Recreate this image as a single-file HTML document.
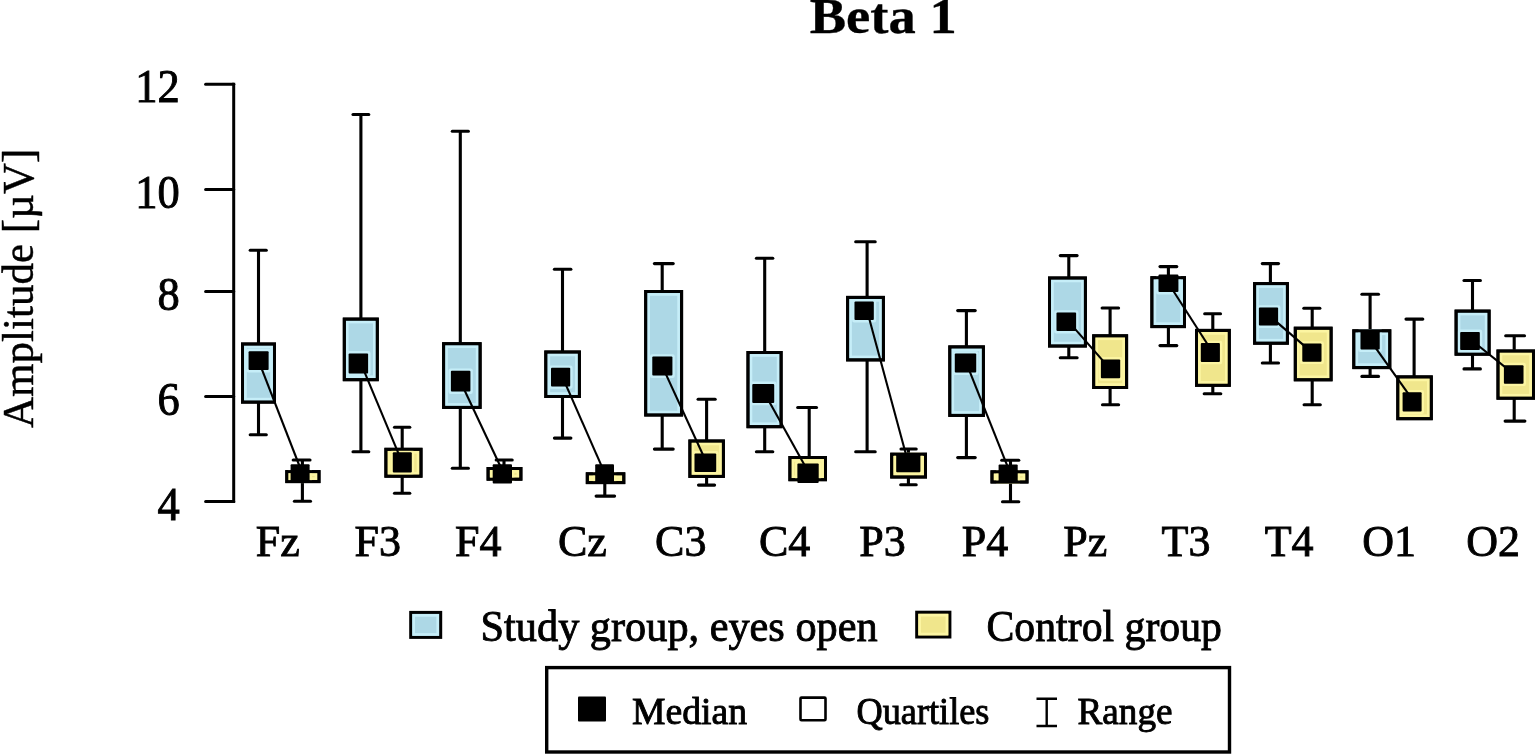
<!DOCTYPE html>
<html><head><meta charset="utf-8"><title>Beta 1</title>
<style>
html,body{margin:0;padding:0;background:#fff;}
body{width:1535px;height:755px;overflow:hidden;}
svg{display:block;filter:blur(0.4px);}
text{font-family:"Liberation Serif","Times New Roman",serif;fill:#000;stroke:#000;stroke-width:0.9px;}
text[font-weight="bold"]{stroke-width:0.3px;}
</style></head>
<body>
<svg width="1535" height="755" viewBox="0 0 1535 755">
<rect width="1535" height="755" fill="#fff"/>
<path d="M233.7 82.7V503.1" stroke="#000" stroke-width="3" fill="none"/>
<line x1="205.6" y1="84.2" x2="233.7" y2="84.2" stroke="#000" stroke-width="3" stroke-linecap="round"/>
<line x1="205.6" y1="189.4" x2="233.7" y2="189.4" stroke="#000" stroke-width="3" stroke-linecap="round"/>
<line x1="205.6" y1="291.5" x2="233.7" y2="291.5" stroke="#000" stroke-width="3" stroke-linecap="round"/>
<line x1="205.6" y1="396.5" x2="233.7" y2="396.5" stroke="#000" stroke-width="3" stroke-linecap="round"/>
<line x1="205.6" y1="501.6" x2="233.7" y2="501.6" stroke="#000" stroke-width="3" stroke-linecap="round"/>
<line x1="258.5" y1="250.3" x2="258.5" y2="344.1" stroke="#000" stroke-width="3.1"/>
<line x1="258.5" y1="401" x2="258.5" y2="434.7" stroke="#000" stroke-width="3.1"/>
<line x1="250.2" y1="250.3" x2="266.3" y2="250.3" stroke="#000" stroke-width="3.1" stroke-linecap="round"/>
<line x1="250.2" y1="434.7" x2="266.3" y2="434.7" stroke="#000" stroke-width="3.1" stroke-linecap="round"/>
<line x1="302.4" y1="460" x2="302.4" y2="470.1" stroke="#000" stroke-width="3.1"/>
<line x1="302.4" y1="483.1" x2="302.4" y2="501.2" stroke="#000" stroke-width="3.1"/>
<line x1="293.2" y1="460" x2="310" y2="460" stroke="#000" stroke-width="3.1" stroke-linecap="round"/>
<line x1="294.4" y1="501.2" x2="310.5" y2="501.2" stroke="#000" stroke-width="3.1" stroke-linecap="round"/>
<rect x="242.5" y="344" width="32" height="58.1" fill="#ADD8E6" stroke="#000" stroke-width="3.0"/><rect x="245.5" y="347" width="26" height="52.1" fill="none" stroke="#C6EEF8" stroke-width="2.6"/>
<rect x="286.8" y="471.6" width="32.2" height="10" fill="#F0E68C" stroke="#000" stroke-width="3.0"/><rect x="289.8" y="474.6" width="26.2" height="4" fill="none" stroke="#FCF5A2" stroke-width="2.6"/>
<clipPath id="cb0"><rect x="241" y="342.5" width="35" height="61.1"/></clipPath>
<clipPath id="cy0"><rect x="285.3" y="470.1" width="35.2" height="13"/></clipPath>
<g clip-path="url(#cb0)"><rect x="247.4" y="350" width="22.4" height="21.2" fill="none" stroke="#C6EEF8" stroke-width="2.4" rx="1"/></g>
<g clip-path="url(#cy0)"><rect x="289.4" y="463.1" width="21.4" height="20.7" fill="none" stroke="#FCF5A2" stroke-width="2.4" rx="1"/></g>
<rect x="242.5" y="344" width="32" height="58.1" fill="none" stroke="#000" stroke-width="3.0"/>
<rect x="286.8" y="471.6" width="32.2" height="10" fill="none" stroke="#000" stroke-width="3.0"/>
<line x1="258.5" y1="360.6" x2="302.4" y2="473.5" stroke="#000" stroke-width="2.1"/>
<rect x="248.6" y="351.2" width="20" height="18.8" fill="#000" rx="1"/>
<rect x="290.6" y="464.3" width="19" height="18.3" fill="#000" rx="1"/>
<line x1="360.9" y1="114.5" x2="360.9" y2="318.5" stroke="#000" stroke-width="3.1"/>
<line x1="360.9" y1="380.1" x2="360.9" y2="451.7" stroke="#000" stroke-width="3.1"/>
<line x1="353" y1="114.5" x2="368.8" y2="114.5" stroke="#000" stroke-width="3.1" stroke-linecap="round"/>
<line x1="353" y1="451.7" x2="368.8" y2="451.7" stroke="#000" stroke-width="3.1" stroke-linecap="round"/>
<line x1="402.2" y1="427.2" x2="402.2" y2="448.7" stroke="#000" stroke-width="3.1"/>
<line x1="402.2" y1="476.8" x2="402.2" y2="493.3" stroke="#000" stroke-width="3.1"/>
<line x1="394.5" y1="427.2" x2="409.8" y2="427.2" stroke="#000" stroke-width="3.1" stroke-linecap="round"/>
<line x1="394.5" y1="493.3" x2="409.8" y2="493.3" stroke="#000" stroke-width="3.1" stroke-linecap="round"/>
<rect x="344.3" y="319.1" width="33" height="60.6" fill="#ADD8E6" stroke="#000" stroke-width="3.0"/><rect x="347.3" y="322.1" width="27" height="54.6" fill="none" stroke="#C6EEF8" stroke-width="2.6"/>
<rect x="385.9" y="449.3" width="35.1" height="26.9" fill="#F0E68C" stroke="#000" stroke-width="3.0"/><rect x="388.9" y="452.3" width="29.1" height="20.9" fill="none" stroke="#FCF5A2" stroke-width="2.6"/>
<clipPath id="cb1"><rect x="342.8" y="317.6" width="36" height="63.6"/></clipPath>
<clipPath id="cy1"><rect x="384.4" y="447.8" width="38.1" height="29.9"/></clipPath>
<g clip-path="url(#cb1)"><rect x="347.4" y="352.3" width="21.9" height="22.3" fill="none" stroke="#C6EEF8" stroke-width="2.4" rx="1"/></g>
<g clip-path="url(#cy1)"><rect x="391.6" y="451.1" width="21.4" height="22.5" fill="none" stroke="#FCF5A2" stroke-width="2.4" rx="1"/></g>
<rect x="344.3" y="319.1" width="33" height="60.6" fill="none" stroke="#000" stroke-width="3.0"/>
<rect x="385.9" y="449.3" width="35.1" height="26.9" fill="none" stroke="#000" stroke-width="3.0"/>
<line x1="360.9" y1="363.4" x2="402.2" y2="462.4" stroke="#000" stroke-width="2.1"/>
<rect x="348.6" y="353.5" width="19.5" height="19.9" fill="#000" rx="1"/>
<rect x="392.8" y="452.3" width="19" height="20.1" fill="#000" rx="1"/>
<line x1="460.3" y1="131.2" x2="460.3" y2="343.2" stroke="#000" stroke-width="3.1"/>
<line x1="460.3" y1="407.9" x2="460.3" y2="468.3" stroke="#000" stroke-width="3.1"/>
<line x1="452.3" y1="131.2" x2="468.4" y2="131.2" stroke="#000" stroke-width="3.1" stroke-linecap="round"/>
<line x1="452.3" y1="468.3" x2="468.4" y2="468.3" stroke="#000" stroke-width="3.1" stroke-linecap="round"/>
<line x1="504" y1="460" x2="504" y2="467.6" stroke="#000" stroke-width="3.1"/>
<line x1="496.2" y1="460" x2="512.2" y2="460" stroke="#000" stroke-width="3.1" stroke-linecap="round"/>
<rect x="443.6" y="343.7" width="36.5" height="63.7" fill="#ADD8E6" stroke="#000" stroke-width="3.0"/><rect x="446.6" y="346.7" width="30.5" height="57.7" fill="none" stroke="#C6EEF8" stroke-width="2.6"/>
<rect x="488.1" y="468.5" width="32.8" height="10.7" fill="#F0E68C" stroke="#000" stroke-width="3.0"/><rect x="491.1" y="471.5" width="26.8" height="4.7" fill="none" stroke="#FCF5A2" stroke-width="2.6"/>
<clipPath id="cb2"><rect x="442.1" y="342.2" width="39.5" height="66.7"/></clipPath>
<clipPath id="cy2"><rect x="486.6" y="467" width="35.8" height="13.7"/></clipPath>
<g clip-path="url(#cb2)"><rect x="449.7" y="369.6" width="21.9" height="23.2" fill="none" stroke="#C6EEF8" stroke-width="2.4" rx="1"/></g>
<g clip-path="url(#cy2)"><rect x="491.5" y="463.1" width="21.7" height="21.7" fill="none" stroke="#FCF5A2" stroke-width="2.4" rx="1"/></g>
<rect x="443.6" y="343.7" width="36.5" height="63.7" fill="none" stroke="#000" stroke-width="3.0"/>
<rect x="488.1" y="468.5" width="32.8" height="10.7" fill="none" stroke="#000" stroke-width="3.0"/>
<line x1="460.3" y1="381.2" x2="504" y2="474" stroke="#000" stroke-width="2.1"/>
<rect x="450.9" y="370.8" width="19.5" height="20.8" fill="#000" rx="1"/>
<rect x="492.7" y="464.3" width="19.3" height="19.3" fill="#000" rx="1"/>
<line x1="562.5" y1="269.3" x2="562.5" y2="351.7" stroke="#000" stroke-width="3.1"/>
<line x1="562.5" y1="397" x2="562.5" y2="438.1" stroke="#000" stroke-width="3.1"/>
<line x1="554.4" y1="269.3" x2="570.9" y2="269.3" stroke="#000" stroke-width="3.1" stroke-linecap="round"/>
<line x1="554.4" y1="438.1" x2="570.9" y2="438.1" stroke="#000" stroke-width="3.1" stroke-linecap="round"/>
<line x1="604.8" y1="483.1" x2="604.8" y2="496.1" stroke="#000" stroke-width="3.1"/>
<line x1="596.1" y1="496.1" x2="614.6" y2="496.1" stroke="#000" stroke-width="3.1" stroke-linecap="round"/>
<rect x="545.8" y="352" width="33.6" height="44.5" fill="#ADD8E6" stroke="#000" stroke-width="3.0"/><rect x="548.8" y="355" width="27.6" height="38.5" fill="none" stroke="#C6EEF8" stroke-width="2.6"/>
<rect x="587.3" y="473.8" width="36.5" height="8.8" fill="#F0E68C" stroke="#000" stroke-width="3.0"/><rect x="590.3" y="476.8" width="30.5" height="2.8" fill="none" stroke="#FCF5A2" stroke-width="2.6"/>
<clipPath id="cb3"><rect x="544.3" y="350.5" width="36.6" height="47.5"/></clipPath>
<clipPath id="cy3"><rect x="585.8" y="472.3" width="39.5" height="11.8"/></clipPath>
<g clip-path="url(#cb3)"><rect x="549.8" y="366.6" width="21.6" height="21" fill="none" stroke="#C6EEF8" stroke-width="2.4" rx="1"/></g>
<g clip-path="url(#cy3)"><rect x="594" y="463.1" width="21.2" height="20.5" fill="none" stroke="#FCF5A2" stroke-width="2.4" rx="1"/></g>
<rect x="545.8" y="352" width="33.6" height="44.5" fill="none" stroke="#000" stroke-width="3.0"/>
<rect x="587.3" y="473.8" width="36.5" height="8.8" fill="none" stroke="#000" stroke-width="3.0"/>
<line x1="562.5" y1="377.1" x2="604.8" y2="473.4" stroke="#000" stroke-width="2.1"/>
<rect x="551" y="367.8" width="19.2" height="18.6" fill="#000" rx="1"/>
<rect x="595.2" y="464.3" width="18.8" height="18.1" fill="#000" rx="1"/>
<line x1="662.2" y1="263.6" x2="662.2" y2="291.7" stroke="#000" stroke-width="3.1"/>
<line x1="662.2" y1="415.5" x2="662.2" y2="449.1" stroke="#000" stroke-width="3.1"/>
<line x1="654.4" y1="263.6" x2="673.2" y2="263.6" stroke="#000" stroke-width="3.1" stroke-linecap="round"/>
<line x1="654.4" y1="449.1" x2="673.2" y2="449.1" stroke="#000" stroke-width="3.1" stroke-linecap="round"/>
<line x1="706.6" y1="399.2" x2="706.6" y2="440.5" stroke="#000" stroke-width="3.1"/>
<line x1="706.6" y1="476.9" x2="706.6" y2="485.1" stroke="#000" stroke-width="3.1"/>
<line x1="698.1" y1="399.2" x2="715.2" y2="399.2" stroke="#000" stroke-width="3.1" stroke-linecap="round"/>
<line x1="698.5" y1="485.1" x2="714.6" y2="485.1" stroke="#000" stroke-width="3.1" stroke-linecap="round"/>
<rect x="645.7" y="291.5" width="35.9" height="123.5" fill="#ADD8E6" stroke="#000" stroke-width="3.0"/><rect x="648.7" y="294.5" width="29.9" height="117.5" fill="none" stroke="#C6EEF8" stroke-width="2.6"/>
<rect x="689.9" y="441" width="33.5" height="35.4" fill="#F0E68C" stroke="#000" stroke-width="3.0"/><rect x="692.9" y="444" width="27.5" height="29.4" fill="none" stroke="#FCF5A2" stroke-width="2.6"/>
<clipPath id="cb4"><rect x="644.2" y="290" width="38.9" height="126.5"/></clipPath>
<clipPath id="cy4"><rect x="688.4" y="439.5" width="36.5" height="38.4"/></clipPath>
<g clip-path="url(#cb4)"><rect x="651.1" y="355.4" width="22.5" height="21.4" fill="none" stroke="#C6EEF8" stroke-width="2.4" rx="1"/></g>
<g clip-path="url(#cy4)"><rect x="693.3" y="452.2" width="24.1" height="21" fill="none" stroke="#FCF5A2" stroke-width="2.4" rx="1"/></g>
<rect x="645.7" y="291.5" width="35.9" height="123.5" fill="none" stroke="#000" stroke-width="3.0"/>
<rect x="689.9" y="441" width="33.5" height="35.4" fill="none" stroke="#000" stroke-width="3.0"/>
<line x1="662.2" y1="366.1" x2="706.6" y2="462.7" stroke="#000" stroke-width="2.1"/>
<rect x="652.3" y="356.6" width="20.1" height="19" fill="#000" rx="1"/>
<rect x="694.5" y="453.4" width="21.7" height="18.6" fill="#000" rx="1"/>
<line x1="764.7" y1="258.3" x2="764.7" y2="351.7" stroke="#000" stroke-width="3.1"/>
<line x1="764.7" y1="427.4" x2="764.7" y2="451.7" stroke="#000" stroke-width="3.1"/>
<line x1="756.4" y1="258.3" x2="772.8" y2="258.3" stroke="#000" stroke-width="3.1" stroke-linecap="round"/>
<line x1="756.4" y1="451.7" x2="772.8" y2="451.7" stroke="#000" stroke-width="3.1" stroke-linecap="round"/>
<line x1="809.2" y1="407.5" x2="809.2" y2="457" stroke="#000" stroke-width="3.1"/>
<line x1="797.7" y1="407.5" x2="816.5" y2="407.5" stroke="#000" stroke-width="3.1" stroke-linecap="round"/>
<rect x="748" y="352.5" width="33.1" height="74.2" fill="#ADD8E6" stroke="#000" stroke-width="3.0"/><rect x="751" y="355.5" width="27.1" height="68.2" fill="none" stroke="#C6EEF8" stroke-width="2.6"/>
<rect x="789.9" y="457.5" width="35.6" height="22.2" fill="#F0E68C" stroke="#000" stroke-width="3.0"/><rect x="792.9" y="460.5" width="29.6" height="16.2" fill="none" stroke="#FCF5A2" stroke-width="2.6"/>
<clipPath id="cb5"><rect x="746.5" y="351" width="36.1" height="77.2"/></clipPath>
<clipPath id="cy5"><rect x="788.4" y="456" width="38.6" height="25.2"/></clipPath>
<g clip-path="url(#cb5)"><rect x="751.1" y="382.8" width="24.3" height="21.3" fill="none" stroke="#C6EEF8" stroke-width="2.4" rx="1"/></g>
<g clip-path="url(#cy5)"><rect x="796.2" y="462.4" width="23.7" height="21.9" fill="none" stroke="#FCF5A2" stroke-width="2.4" rx="1"/></g>
<rect x="748" y="352.5" width="33.1" height="74.2" fill="none" stroke="#000" stroke-width="3.0"/>
<rect x="789.9" y="457.5" width="35.6" height="22.2" fill="none" stroke="#000" stroke-width="3.0"/>
<line x1="764.7" y1="393.4" x2="809.2" y2="473.4" stroke="#000" stroke-width="2.1"/>
<rect x="752.3" y="384" width="21.9" height="18.9" fill="#000" rx="1"/>
<rect x="797.4" y="463.6" width="21.3" height="19.5" fill="#000" rx="1"/>
<line x1="867.1" y1="241.7" x2="867.1" y2="296.9" stroke="#000" stroke-width="3.1"/>
<line x1="867.1" y1="360.4" x2="867.1" y2="451.7" stroke="#000" stroke-width="3.1"/>
<line x1="855.7" y1="241.7" x2="875.2" y2="241.7" stroke="#000" stroke-width="3.1" stroke-linecap="round"/>
<line x1="855.7" y1="451.7" x2="875.2" y2="451.7" stroke="#000" stroke-width="3.1" stroke-linecap="round"/>
<line x1="908.4" y1="449" x2="908.4" y2="453.7" stroke="#000" stroke-width="3.1"/>
<line x1="908.4" y1="477.5" x2="908.4" y2="484.8" stroke="#000" stroke-width="3.1"/>
<line x1="901" y1="449" x2="916.2" y2="449" stroke="#000" stroke-width="3.1" stroke-linecap="round"/>
<line x1="900.7" y1="484.8" x2="916.2" y2="484.8" stroke="#000" stroke-width="3.1" stroke-linecap="round"/>
<rect x="847.6" y="297.4" width="35.8" height="62.5" fill="#ADD8E6" stroke="#000" stroke-width="3.0"/><rect x="850.6" y="300.4" width="29.8" height="56.5" fill="none" stroke="#C6EEF8" stroke-width="2.6"/>
<rect x="891.7" y="454.2" width="33.8" height="22.8" fill="#F0E68C" stroke="#000" stroke-width="3.0"/><rect x="894.7" y="457.2" width="27.8" height="16.8" fill="none" stroke="#FCF5A2" stroke-width="2.6"/>
<clipPath id="cb6"><rect x="846.1" y="295.9" width="38.8" height="65.5"/></clipPath>
<clipPath id="cy6"><rect x="890.2" y="452.7" width="36.8" height="25.8"/></clipPath>
<g clip-path="url(#cb6)"><rect x="853.3" y="300.3" width="21.7" height="20.9" fill="none" stroke="#C6EEF8" stroke-width="2.4" rx="1"/></g>
<g clip-path="url(#cy6)"><rect x="895" y="453.2" width="26.6" height="20.3" fill="none" stroke="#FCF5A2" stroke-width="2.4" rx="1"/></g>
<rect x="847.6" y="297.4" width="35.8" height="62.5" fill="none" stroke="#000" stroke-width="3.0"/>
<rect x="891.7" y="454.2" width="33.8" height="22.8" fill="none" stroke="#000" stroke-width="3.0"/>
<line x1="867.1" y1="310.8" x2="908.4" y2="463.4" stroke="#000" stroke-width="2.1"/>
<rect x="854.5" y="301.5" width="19.3" height="18.5" fill="#000" rx="1"/>
<rect x="896.2" y="454.4" width="24.2" height="17.9" fill="#000" rx="1"/>
<line x1="966.4" y1="310.6" x2="966.4" y2="346.4" stroke="#000" stroke-width="3.1"/>
<line x1="966.4" y1="415.9" x2="966.4" y2="457.6" stroke="#000" stroke-width="3.1"/>
<line x1="957.7" y1="310.6" x2="975.2" y2="310.6" stroke="#000" stroke-width="3.1" stroke-linecap="round"/>
<line x1="957.7" y1="457.6" x2="975.2" y2="457.6" stroke="#000" stroke-width="3.1" stroke-linecap="round"/>
<line x1="1010.5" y1="460.3" x2="1010.5" y2="470.6" stroke="#000" stroke-width="3.1"/>
<line x1="1010.5" y1="483.2" x2="1010.5" y2="501.7" stroke="#000" stroke-width="3.1"/>
<line x1="1001.7" y1="460.3" x2="1018.8" y2="460.3" stroke="#000" stroke-width="3.1" stroke-linecap="round"/>
<line x1="1002.5" y1="501.7" x2="1018.8" y2="501.7" stroke="#000" stroke-width="3.1" stroke-linecap="round"/>
<rect x="949.8" y="346.9" width="33.6" height="68.5" fill="#ADD8E6" stroke="#000" stroke-width="3.0"/><rect x="952.8" y="349.9" width="27.6" height="62.5" fill="none" stroke="#C6EEF8" stroke-width="2.6"/>
<rect x="992" y="471.8" width="35" height="10.2" fill="#F0E68C" stroke="#000" stroke-width="3.0"/><rect x="995" y="474.8" width="29" height="4.2" fill="none" stroke="#FCF5A2" stroke-width="2.6"/>
<clipPath id="cb7"><rect x="948.3" y="345.4" width="36.6" height="71.5"/></clipPath>
<clipPath id="cy7"><rect x="990.5" y="470.3" width="38" height="13.2"/></clipPath>
<g clip-path="url(#cb7)"><rect x="953.6" y="352.4" width="23.8" height="21.4" fill="none" stroke="#C6EEF8" stroke-width="2.4" rx="1"/></g>
<g clip-path="url(#cy7)"><rect x="997.4" y="463.3" width="21.5" height="20.9" fill="none" stroke="#FCF5A2" stroke-width="2.4" rx="1"/></g>
<rect x="949.8" y="346.9" width="33.6" height="68.5" fill="none" stroke="#000" stroke-width="3.0"/>
<rect x="992" y="471.8" width="35" height="10.2" fill="none" stroke="#000" stroke-width="3.0"/>
<line x1="966.4" y1="363.1" x2="1010.5" y2="473.8" stroke="#000" stroke-width="2.1"/>
<rect x="954.8" y="353.6" width="21.4" height="19" fill="#000" rx="1"/>
<rect x="998.6" y="464.5" width="19.1" height="18.5" fill="#000" rx="1"/>
<line x1="1068.8" y1="255.6" x2="1068.8" y2="277.5" stroke="#000" stroke-width="3.1"/>
<line x1="1068.8" y1="346.5" x2="1068.8" y2="357.7" stroke="#000" stroke-width="3.1"/>
<line x1="1060.3" y1="255.6" x2="1077.1" y2="255.6" stroke="#000" stroke-width="3.1" stroke-linecap="round"/>
<line x1="1060.3" y1="357.7" x2="1077.1" y2="357.7" stroke="#000" stroke-width="3.1" stroke-linecap="round"/>
<line x1="1110.1" y1="308" x2="1110.1" y2="335.6" stroke="#000" stroke-width="3.1"/>
<line x1="1110.1" y1="388.2" x2="1110.1" y2="404.8" stroke="#000" stroke-width="3.1"/>
<line x1="1102.1" y1="308" x2="1118.6" y2="308" stroke="#000" stroke-width="3.1" stroke-linecap="round"/>
<line x1="1102.5" y1="404.8" x2="1118.6" y2="404.8" stroke="#000" stroke-width="3.1" stroke-linecap="round"/>
<rect x="1049.5" y="278" width="35.9" height="68" fill="#ADD8E6" stroke="#000" stroke-width="3.0"/><rect x="1052.5" y="281" width="29.9" height="62" fill="none" stroke="#C6EEF8" stroke-width="2.6"/>
<rect x="1093.7" y="335.8" width="32.9" height="51.7" fill="#F0E68C" stroke="#000" stroke-width="3.0"/><rect x="1096.7" y="338.8" width="26.9" height="45.7" fill="none" stroke="#FCF5A2" stroke-width="2.6"/>
<clipPath id="cb8"><rect x="1048" y="276.5" width="38.9" height="71"/></clipPath>
<clipPath id="cy8"><rect x="1092.2" y="334.3" width="35.9" height="54.7"/></clipPath>
<g clip-path="url(#cb8)"><rect x="1055.3" y="311.4" width="22" height="20.9" fill="none" stroke="#C6EEF8" stroke-width="2.4" rx="1"/></g>
<g clip-path="url(#cy8)"><rect x="1099.7" y="358.3" width="21.7" height="21.2" fill="none" stroke="#FCF5A2" stroke-width="2.4" rx="1"/></g>
<rect x="1049.5" y="278" width="35.9" height="68" fill="none" stroke="#000" stroke-width="3.0"/>
<rect x="1093.7" y="335.8" width="32.9" height="51.7" fill="none" stroke="#000" stroke-width="3.0"/>
<line x1="1068.8" y1="321.9" x2="1110.1" y2="368.9" stroke="#000" stroke-width="2.1"/>
<rect x="1056.5" y="312.6" width="19.6" height="18.5" fill="#000" rx="1"/>
<rect x="1100.9" y="359.5" width="19.3" height="18.8" fill="#000" rx="1"/>
<line x1="1168.4" y1="266.6" x2="1168.4" y2="277.2" stroke="#000" stroke-width="3.1"/>
<line x1="1168.4" y1="327.1" x2="1168.4" y2="345.6" stroke="#000" stroke-width="3.1"/>
<line x1="1160" y1="266.6" x2="1176.8" y2="266.6" stroke="#000" stroke-width="3.1" stroke-linecap="round"/>
<line x1="1160" y1="345.6" x2="1176.8" y2="345.6" stroke="#000" stroke-width="3.1" stroke-linecap="round"/>
<line x1="1212.8" y1="313.7" x2="1212.8" y2="329.9" stroke="#000" stroke-width="3.1"/>
<line x1="1212.8" y1="385.8" x2="1212.8" y2="393.7" stroke="#000" stroke-width="3.1"/>
<line x1="1204.7" y1="313.7" x2="1220.5" y2="313.7" stroke="#000" stroke-width="3.1" stroke-linecap="round"/>
<line x1="1204.2" y1="393.7" x2="1220.8" y2="393.7" stroke="#000" stroke-width="3.1" stroke-linecap="round"/>
<rect x="1151.9" y="277.7" width="32.6" height="48.9" fill="#ADD8E6" stroke="#000" stroke-width="3.0"/><rect x="1154.9" y="280.7" width="26.6" height="42.9" fill="none" stroke="#C6EEF8" stroke-width="2.6"/>
<rect x="1196.5" y="330.4" width="32.8" height="54.9" fill="#F0E68C" stroke="#000" stroke-width="3.0"/><rect x="1199.5" y="333.4" width="26.8" height="48.9" fill="none" stroke="#FCF5A2" stroke-width="2.6"/>
<clipPath id="cb9"><rect x="1150.4" y="276.2" width="35.6" height="51.9"/></clipPath>
<clipPath id="cy9"><rect x="1195" y="328.9" width="35.8" height="57.9"/></clipPath>
<g clip-path="url(#cb9)"><rect x="1157.3" y="273.3" width="22.3" height="20" fill="none" stroke="#C6EEF8" stroke-width="2.4" rx="1"/></g>
<g clip-path="url(#cy9)"><rect x="1199.6" y="341.9" width="21.5" height="21.2" fill="none" stroke="#FCF5A2" stroke-width="2.4" rx="1"/></g>
<rect x="1151.9" y="277.7" width="32.6" height="48.9" fill="none" stroke="#000" stroke-width="3.0"/>
<rect x="1196.5" y="330.4" width="32.8" height="54.9" fill="none" stroke="#000" stroke-width="3.0"/>
<line x1="1168.4" y1="283.3" x2="1212.8" y2="352.5" stroke="#000" stroke-width="2.1"/>
<rect x="1158.5" y="274.5" width="19.9" height="17.6" fill="#000" rx="1"/>
<rect x="1200.8" y="343.1" width="19.1" height="18.8" fill="#000" rx="1"/>
<line x1="1270.4" y1="263.6" x2="1270.4" y2="283.1" stroke="#000" stroke-width="3.1"/>
<line x1="1270.4" y1="343.7" x2="1270.4" y2="363" stroke="#000" stroke-width="3.1"/>
<line x1="1262.3" y1="263.6" x2="1278.5" y2="263.6" stroke="#000" stroke-width="3.1" stroke-linecap="round"/>
<line x1="1262.3" y1="363" x2="1278.5" y2="363" stroke="#000" stroke-width="3.1" stroke-linecap="round"/>
<line x1="1312.2" y1="308.3" x2="1312.2" y2="327.7" stroke="#000" stroke-width="3.1"/>
<line x1="1312.2" y1="380.3" x2="1312.2" y2="404.8" stroke="#000" stroke-width="3.1"/>
<line x1="1303.8" y1="308.3" x2="1319.9" y2="308.3" stroke="#000" stroke-width="3.1" stroke-linecap="round"/>
<line x1="1304.1" y1="404.8" x2="1320.3" y2="404.8" stroke="#000" stroke-width="3.1" stroke-linecap="round"/>
<rect x="1254.6" y="283.6" width="32.8" height="59.6" fill="#ADD8E6" stroke="#000" stroke-width="3.0"/><rect x="1257.6" y="286.6" width="26.8" height="53.6" fill="none" stroke="#C6EEF8" stroke-width="2.6"/>
<rect x="1295.3" y="328.2" width="35.8" height="51.6" fill="#F0E68C" stroke="#000" stroke-width="3.0"/><rect x="1298.3" y="331.2" width="29.8" height="45.6" fill="none" stroke="#FCF5A2" stroke-width="2.6"/>
<clipPath id="cb10"><rect x="1253.1" y="282.1" width="35.8" height="62.6"/></clipPath>
<clipPath id="cy10"><rect x="1293.8" y="326.7" width="38.8" height="54.6"/></clipPath>
<g clip-path="url(#cb10)"><rect x="1257.7" y="306.4" width="21.6" height="20.3" fill="none" stroke="#C6EEF8" stroke-width="2.4" rx="1"/></g>
<g clip-path="url(#cy10)"><rect x="1301.1" y="342.4" width="21.6" height="20.5" fill="none" stroke="#FCF5A2" stroke-width="2.4" rx="1"/></g>
<rect x="1254.6" y="283.6" width="32.8" height="59.6" fill="none" stroke="#000" stroke-width="3.0"/>
<rect x="1295.3" y="328.2" width="35.8" height="51.6" fill="none" stroke="#000" stroke-width="3.0"/>
<line x1="1270.4" y1="316.6" x2="1312.2" y2="352.6" stroke="#000" stroke-width="2.1"/>
<rect x="1258.9" y="307.6" width="19.2" height="17.9" fill="#000" rx="1"/>
<rect x="1302.3" y="343.6" width="19.2" height="18.1" fill="#000" rx="1"/>
<line x1="1370.1" y1="294.3" x2="1370.1" y2="330.3" stroke="#000" stroke-width="3.1"/>
<line x1="1370.1" y1="368.1" x2="1370.1" y2="376.4" stroke="#000" stroke-width="3.1"/>
<line x1="1361.9" y1="294.3" x2="1378.5" y2="294.3" stroke="#000" stroke-width="3.1" stroke-linecap="round"/>
<line x1="1361.9" y1="376.4" x2="1378.5" y2="376.4" stroke="#000" stroke-width="3.1" stroke-linecap="round"/>
<line x1="1414.1" y1="319.1" x2="1414.1" y2="376.4" stroke="#000" stroke-width="3.1"/>
<line x1="1406" y1="319.1" x2="1422.8" y2="319.1" stroke="#000" stroke-width="3.1" stroke-linecap="round"/>
<rect x="1353.8" y="330.8" width="36" height="36.8" fill="#ADD8E6" stroke="#000" stroke-width="3.0"/><rect x="1356.8" y="333.8" width="30" height="30.8" fill="none" stroke="#C6EEF8" stroke-width="2.6"/>
<rect x="1397.8" y="376.9" width="33.5" height="41.8" fill="#F0E68C" stroke="#000" stroke-width="3.0"/><rect x="1400.8" y="379.9" width="27.5" height="35.8" fill="none" stroke="#FCF5A2" stroke-width="2.6"/>
<clipPath id="cb11"><rect x="1352.3" y="329.3" width="39" height="39.8"/></clipPath>
<clipPath id="cy11"><rect x="1396.3" y="375.4" width="36.5" height="44.8"/></clipPath>
<g clip-path="url(#cb11)"><rect x="1359.3" y="329.8" width="21.6" height="20.9" fill="none" stroke="#C6EEF8" stroke-width="2.4" rx="1"/></g>
<g clip-path="url(#cy11)"><rect x="1401.4" y="391.1" width="21.4" height="21.6" fill="none" stroke="#FCF5A2" stroke-width="2.4" rx="1"/></g>
<rect x="1353.8" y="330.8" width="36" height="36.8" fill="none" stroke="#000" stroke-width="3.0"/>
<rect x="1397.8" y="376.9" width="33.5" height="41.8" fill="none" stroke="#000" stroke-width="3.0"/>
<line x1="1370.1" y1="340.2" x2="1414.1" y2="401.9" stroke="#000" stroke-width="2.1"/>
<rect x="1360.5" y="331" width="19.2" height="18.5" fill="#000" rx="1"/>
<rect x="1402.6" y="392.3" width="19" height="19.2" fill="#000" rx="1"/>
<line x1="1472.5" y1="280.5" x2="1472.5" y2="310.6" stroke="#000" stroke-width="3.1"/>
<line x1="1472.5" y1="354.7" x2="1472.5" y2="368.9" stroke="#000" stroke-width="3.1"/>
<line x1="1464" y1="280.5" x2="1480.4" y2="280.5" stroke="#000" stroke-width="3.1" stroke-linecap="round"/>
<line x1="1464" y1="368.9" x2="1480.4" y2="368.9" stroke="#000" stroke-width="3.1" stroke-linecap="round"/>
<line x1="1514.2" y1="335.8" x2="1514.2" y2="349.8" stroke="#000" stroke-width="3.1"/>
<line x1="1514.2" y1="398.9" x2="1514.2" y2="421.1" stroke="#000" stroke-width="3.1"/>
<line x1="1505.7" y1="335.8" x2="1524.5" y2="335.8" stroke="#000" stroke-width="3.1" stroke-linecap="round"/>
<line x1="1505.1" y1="421.1" x2="1524.9" y2="421.1" stroke="#000" stroke-width="3.1" stroke-linecap="round"/>
<rect x="1456.1" y="311.1" width="33" height="43.1" fill="#ADD8E6" stroke="#000" stroke-width="3.0"/><rect x="1459.1" y="314.1" width="27" height="37.1" fill="none" stroke="#C6EEF8" stroke-width="2.6"/>
<rect x="1498" y="351" width="35.5" height="47.2" fill="#F0E68C" stroke="#000" stroke-width="3.0"/><rect x="1501" y="354" width="29.5" height="41.2" fill="none" stroke="#FCF5A2" stroke-width="2.6"/>
<clipPath id="cb12"><rect x="1454.6" y="309.6" width="36" height="46.1"/></clipPath>
<clipPath id="cy12"><rect x="1496.5" y="349.5" width="38.5" height="50.2"/></clipPath>
<g clip-path="url(#cb12)"><rect x="1459" y="330.7" width="22" height="20.6" fill="none" stroke="#C6EEF8" stroke-width="2.4" rx="1"/></g>
<g clip-path="url(#cy12)"><rect x="1502.7" y="364" width="22" height="20.9" fill="none" stroke="#FCF5A2" stroke-width="2.4" rx="1"/></g>
<rect x="1456.1" y="311.1" width="33" height="43.1" fill="none" stroke="#000" stroke-width="3.0"/>
<rect x="1498" y="351" width="35.5" height="47.2" fill="none" stroke="#000" stroke-width="3.0"/>
<line x1="1472.5" y1="341" x2="1514.2" y2="374.4" stroke="#000" stroke-width="2.1"/>
<rect x="1460.2" y="331.9" width="19.6" height="18.2" fill="#000" rx="1"/>
<rect x="1503.9" y="365.2" width="19.6" height="18.5" fill="#000" rx="1"/>
<rect x="410.7" y="612.4" width="30" height="25" fill="#ADD8E6" stroke="#000" stroke-width="3.0"/><rect x="413.7" y="615.4" width="24" height="19" fill="none" stroke="#C6EEF8" stroke-width="2.6"/>
<rect x="916.7" y="612.2" width="33.2" height="24.8" fill="#F0E68C" stroke="#000" stroke-width="3.0"/><rect x="919.7" y="615.2" width="27.2" height="18.8" fill="none" stroke="#FCF5A2" stroke-width="2.6"/>
<rect x="546.7" y="667.6" width="682.8" height="84.4" fill="none" stroke="#000" stroke-width="3.4"/>
<rect x="578" y="696.4" width="28" height="25.1" fill="#000" rx="1"/>
<rect x="800.5" y="697.6" width="25" height="22.6" fill="none" stroke="#000" stroke-width="2.6" rx="1"/>
<path d="M1046.7 698.8V726 M1036.5 698.8H1057 M1036.5 726H1057" stroke="#000" stroke-width="2.4" fill="none"/>
<text x="809.7" y="32.6" font-size="50" text-anchor="start" font-weight="bold" textLength="147" lengthAdjust="spacingAndGlyphs" >Beta 1</text>
<text transform="translate(179.8 102.4) scale(1.000 1.065)" font-size="44.5" text-anchor="end" >12</text>
<text transform="translate(179.8 207.6) scale(1.000 1.065)" font-size="44.5" text-anchor="end" >10</text>
<text transform="translate(179.8 309.7) scale(1.000 1.065)" font-size="44.5" text-anchor="end" >8</text>
<text transform="translate(179.8 414.7) scale(1.000 1.065)" font-size="44.5" text-anchor="end" >6</text>
<text transform="translate(179.8 519.8) scale(1.000 1.065)" font-size="44.5" text-anchor="end" >4</text>
<text transform="translate(33 428) rotate(-90)" style="stroke-width:0.45px" font-size="45" textLength="279.3" lengthAdjust="spacingAndGlyphs">Amplitude [µV]</text>
<text x="277.7" y="555.6" font-size="44" text-anchor="middle" >Fz</text>
<text x="377.7" y="555.6" font-size="44" text-anchor="middle" >F3</text>
<text x="478.2" y="555.6" font-size="44" text-anchor="middle" >F4</text>
<text x="582.4" y="555.6" font-size="44" text-anchor="middle" >Cz</text>
<text x="680.8" y="555.6" font-size="44" text-anchor="middle" >C3</text>
<text x="784.7" y="555.6" font-size="44" text-anchor="middle" >C4</text>
<text x="882.4" y="555.6" font-size="44" text-anchor="middle" >P3</text>
<text x="985" y="555.6" font-size="44" text-anchor="middle" >P4</text>
<text x="1085.2" y="555.6" font-size="44" text-anchor="middle" >Pz</text>
<text x="1186" y="555.6" font-size="44" text-anchor="middle" >T3</text>
<text x="1289.1" y="555.6" font-size="44" text-anchor="middle" >T4</text>
<text x="1389.1" y="555.6" font-size="44" text-anchor="middle" >O1</text>
<text x="1493.1" y="555.6" font-size="44" text-anchor="middle" >O2</text>
<text x="480.6" y="640.8" font-size="44" text-anchor="start" textLength="397" lengthAdjust="spacingAndGlyphs" >Study group, eyes open</text>
<text x="986.5" y="640.8" font-size="44" text-anchor="start" textLength="235.5" lengthAdjust="spacingAndGlyphs" >Control group</text>
<text x="632" y="724.3" font-size="37.5" text-anchor="start" textLength="115" lengthAdjust="spacingAndGlyphs" >Median</text>
<text x="856.5" y="724.2" font-size="37.5" text-anchor="start" textLength="133" lengthAdjust="spacingAndGlyphs" >Quartiles</text>
<text x="1077.5" y="724.2" font-size="37.5" text-anchor="start" textLength="95" lengthAdjust="spacingAndGlyphs" >Range</text>
</svg>
</body></html>
